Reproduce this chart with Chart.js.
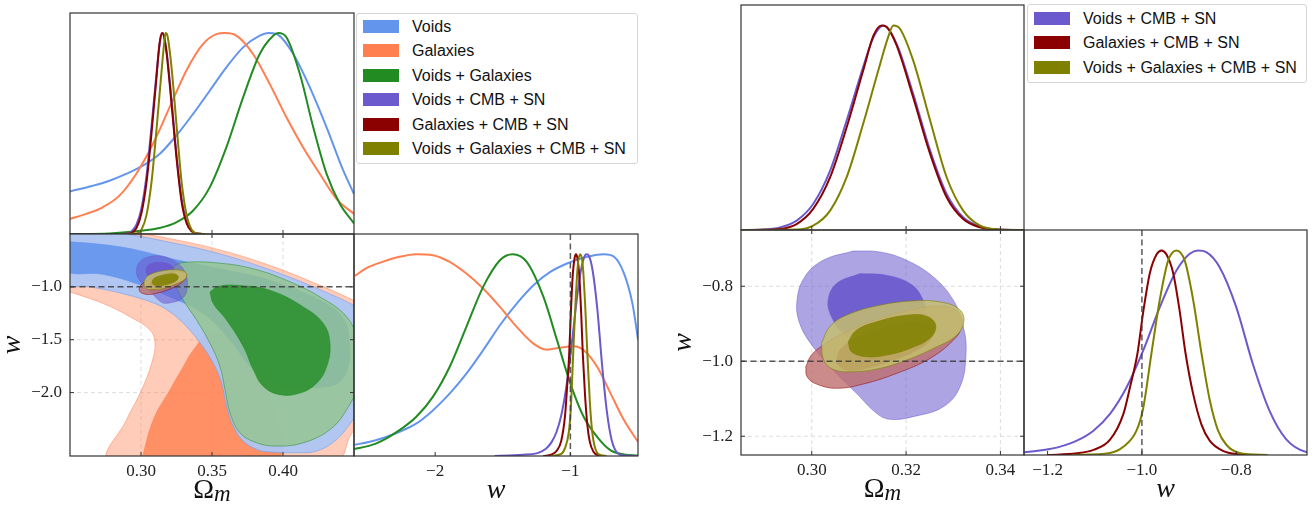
<!DOCTYPE html>
<html>
<head>
<meta charset="utf-8">
<script src="https://cdn.jsdelivr.net/npm/chart.js@4.4.0/dist/chart.umd.min.js"></script>
<style>
  body { margin: 0; width: 1315px; height: 506px; background: #fff; position: relative; overflow: hidden; }
  canvas { position: absolute; }
  .legend { position: absolute; border: 1px solid #d6d6d6; border-radius: 3px; background: #fff;
            font-family: "Liberation Sans", sans-serif; font-size: 16px; color: #111; }
  .legend .row { position: absolute; left: 0; height: 24px; line-height: 24px; white-space: nowrap; }
  .legend .sw { position: absolute; width: 36px; height: 13px; top: 5px; }
  .legend .tx { position: absolute; left: 55px; top: 0; }
</style>
</head>
<body>
<script>
// ---- series ----
const seriesNames = ["Voids", "Galaxies", "Voids + Galaxies", "Voids + CMB + SN", "Galaxies + CMB + SN", "Voids + Galaxies + CMB + SN"];
const seriesColors = ["#6495ED", "#FF7F50", "#228B22", "#6A5ACD", "#8B0000", "#808000"];

// ---- ticks ----
const omTicksLeft = [0.30, 0.35, 0.40];
const wTicksLeft2d = [-1.0, -1.5, -2.0];
const wTicksLeft1d = [-2, -1];
const omTicksRight = [0.30, 0.32, 0.34];
const wTicksRight = [-0.8, -1.0, -1.2];

// ---- 1D marginals: Omega_m  [value, normalised density] ----
const omVoids = [[.25,.212],[.266,.240],[.2778,.265],[.2895,.299],[.3013,.340],[.3131,.398],[.3248,.489],[.3366,.597],[.3484,.713],[.3601,.829],[.3719,.929],[.3836,.987],[.3895,1],[.3954,.995],[.4072,.896],[.4189,.730],[.4307,.531],[.4425,.315],[.45,.199]];
const omGalaxies = [[.25,.075],[.2613,.100],[.273,.133],[.2848,.191],[.2966,.299],[.3084,.448],[.3201,.630],[.3319,.813],[.3436,.945],[.3531,.995],[.359,1],[.3672,.987],[.3789,.896],[.3907,.746],[.4025,.580],[.4142,.431],[.426,.299],[.4378,.174],[.45,.100]];
const omVG = [[.25,0],[.2778,.003],[.3013,.017],[.3131,.030],[.3248,.058],[.3366,.116],[.3484,.232],[.3601,.431],[.3719,.680],[.3836,.896],[.3931,.987],[.3966,1],[.4025,.978],[.4119,.796],[.4213,.531],[.4307,.299],[.4401,.149],[.45,.053]];
const omVCS = [[.285,0],[.2897,.002],[.2933,.013],[.2968,.046],[.3003,.127],[.3039,.29],[.3074,.535],[.3109,.796],[.3131,.943],[.3152,1],[.318,.91],[.3215,.666],[.3251,.388],[.3286,.176],[.3321,.062],[.3357,.016],[.3392,.003],[.345,0]];
const omGCS = [[.285,0],[.2897,.001],[.2933,.005],[.2968,.029],[.3003,.103],[.3039,.258],[.3074,.502],[.3109,.78],[.3131,.951],[.3148,1],[.3159,.992],[.318,.902],[.3215,.649],[.3251,.372],[.3286,.16],[.3321,.054],[.3357,.013],[.3392,.002],[.345,0]];
const omVGCS = [[.285,0],[.2968,.002],[.3003,.021],[.3039,.095],[.3074,.258],[.3109,.519],[.3145,.812],[.3162,.943],[.3173,1],[.3187,.984],[.3215,.829],[.3251,.535],[.3286,.258],[.3321,.095],[.3357,.021],[.3392,.003],[.345,0]];

// ---- 1D marginals: w ----
const wVoids = [[-2.62,.052],[-2.439,.078],[-2.266,.119],[-2.141,.160],[-2.017,.226],[-1.893,.309],[-1.769,.408],[-1.645,.524],[-1.521,.648],[-1.397,.755],[-1.273,.846],[-1.149,.912],[-1.025,.954],[-.901,.983],[-.752,1],[-.677,.987],[-.603,.904],[-.541,.755],[-.499,.574]];
const wGalaxies = [[-2.62,.879],[-2.514,.929],[-2.39,.962],[-2.266,.987],[-2.141,1],[-2.017,.995],[-1.893,.962],[-1.769,.904],[-1.645,.83],[-1.521,.739],[-1.397,.64],[-1.273,.557],[-1.174,.527],[-1.074,.537],[-.975,.544],[-.901,.524],[-.801,.441],[-.702,.309],[-.603,.177],[-.499,.069]];
const wVG = [[-2.62,.031],[-2.439,.061],[-2.266,.127],[-2.141,.193],[-2.017,.293],[-1.893,.441],[-1.769,.64],[-1.645,.838],[-1.521,.97],[-1.427,1],[-1.323,.962],[-1.199,.788],[-1.099,.574],[-1,.359],[-.901,.193],[-.801,.094],[-.702,.028],[-.603,.008],[-.499,.002]];
const wVCS = [[-1.56,0],[-1.45,.003],[-1.35,.006],[-1.25,.013],[-1.2085,.024],[-1.1732,.041],[-1.138,.07],[-1.1028,.119],[-1.0676,.201],[-1.0324,.331],[-.9972,.511],[-.962,.723],[-.9268,.902],[-.8986,.984],[-.881,1],[-.8634,.992],[-.8352,.918],[-.8,.723],[-.7648,.445],[-.7296,.217],[-.6944,.078],[-.65,.013],[-.6,.002],[-.5,0]];
const wGCS = [[-1.2014,0],[-1.138,.008],[-1.1028,.025],[-1.0676,.075],[-1.0394,.2],[-1.0254,.33],[-1.0092,.5],[-.9972,.7],[-.9831,.89],[-.969,.98],[-.9585,1],[-.9479,.98],[-.9338,.89],[-.9197,.7],[-.9077,.5],[-.8915,.3],[-.8739,.15],[-.8563,.07],[-.8282,.02],[-.793,.003],[-.7648,0]];
const wVGCS = [[-1.1451,0],[-1.0676,.01],[-1.0394,.04],[-1.0113,.12],[-.9972,.23],[-.9796,.5],[-.962,.76],[-.9444,.95],[-.9268,1],[-.9092,.95],[-.8915,.76],[-.8739,.5],[-.8563,.27],[-.8387,.12],[-.8211,.05],[-.793,.01],[-.7331,0]];

// ---- 2D contours (Omega_m, w), 95% and 68% ----
const galaxies95 = [[.2453,-.3903],[.2852,-.4624],[.3204,-.5439],[.3556,-.6505],[.3908,-.7978],[.4261,-.9859],[.4519,-1.1426],[.4566,-1.1897],[.4566,-2.1928],[.4472,-2.4122],[.4378,-2.6317],[.2782,-2.6317],[.2899,-2.2555],[.3005,-1.9734],[.3075,-1.7226],[.3099,-1.5345],[.3063,-1.4091],[.2923,-1.2837],[.2735,-1.1583],[.25,-1.0486],[.2453,-1.0329]];
const galaxies68 = [[.3005,-2.6317],[.3087,-2.2555],[.3204,-1.9734],[.3298,-1.7539],[.3369,-1.5972],[.3486,-1.4404],[.3721,-1.5345],[.3908,-2.0674],[.3955,-2.6317]];
const voids95 = [[.2453,-.4216],[.2852,-.4906],[.3204,-.5784],[.3556,-.6881],[.3908,-.8386],[.4261,-1.0266],[.4519,-1.1897],[.4566,-1.2524],[.4566,-2.1301],[.4495,-2.2555],[.4378,-2.4436],[.4237,-2.5533],[.4096,-2.569],[.3908,-2.5627],[.3815,-2.5376],[.3721,-2.4592],[.365,-2.3182],[.3603,-2.1301],[.3568,-1.9107],[.3509,-1.7226],[.3427,-1.5502],[.3322,-1.3777],[.3204,-1.2367],[.3087,-1.152],[.2852,-1.058],[.2617,-.9953],[.2453,-.9702]];
const voids68 = [[.2453,-.569],[.2735,-.6003],[.2969,-.6505],[.3251,-.7445],[.3556,-.8292],[.3908,-.9389],[.4261,-1.127],[.4425,-1.2994],[.4467,-1.5345],[.446,-1.7539],[.4401,-1.895],[.4284,-1.9483],[.4096,-1.9483],[.3908,-1.895],[.3768,-1.7539],[.3627,-1.5031],[.3439,-1.2524],[.3204,-1.0956],[.2969,-.9702],[.2735,-.8824],[.2453,-.8386]];
const vg95 = [[.3216,-.8605],[.3239,-.7978],[.3322,-.7665],[.3556,-.7759],[.3791,-.8292],[.4026,-.9389],[.4261,-1.0956],[.4448,-1.2837],[.4519,-1.5031],[.4519,-1.942],[.4448,-2.1614],[.4331,-2.3495],[.4143,-2.4749],[.3955,-2.5063],[.3815,-2.4749],[.3697,-2.3809],[.3627,-2.1928],[.3592,-1.9734],[.3556,-1.7539],[.3486,-1.5345],[.3392,-1.315],[.3298,-1.127],[.3239,-.9702]];
const vg68 = [[.3486,-1.0486],[.3545,-.9953],[.3674,-.9859],[.3908,-1.0329],[.4143,-1.1897],[.4284,-1.3464],[.4331,-1.5345],[.4308,-1.7539],[.4237,-1.9107],[.412,-2.0047],[.3979,-2.0204],[.3862,-1.942],[.3791,-1.7853],[.3721,-1.5658],[.3603,-1.315],[.3509,-1.1583]];
const vcs95 = [[.30878,-.706],[.31444,-.7086],[.32011,-.7308],[.32577,-.7752],[.33002,-.8373],[.33214,-.9082],[.33271,-.9792],[.33144,-1.0679],[.3279,-1.1211],[.32152,-1.1477],[.31657,-1.1548],[.31374,-1.1388],[.30949,-1.0856],[.30453,-1.0235],[.30028,-.9614],[.29745,-.8993],[.29688,-.8373],[.29851,-.7752],[.30241,-.7308]];
const vcs68 = [[.3102,-.7663],[.31586,-.7707],[.32082,-.7929],[.32329,-.8284],[.32436,-.8816],[.32365,-.9348],[.32082,-.9703],[.31586,-.9792],[.3109,-.9614],[.30666,-.926],[.30418,-.8816],[.30347,-.8373],[.30524,-.7929]];
const gcs95 = [[.29873,-1.0146],[.29993,-.9836],[.30241,-.957],[.30736,-.9215],[.31444,-.886],[.32152,-.8621],[.3279,-.8532],[.33129,-.8727],[.33179,-.9082],[.33002,-.9437],[.32506,-.9925],[.31798,-1.0324],[.3109,-1.0608],[.30524,-1.0723],[.30099,-1.0608],[.29901,-1.0413]];
const gcs68 = [[.30524,-1.0058],[.30595,-.9703],[.3102,-.9348],[.31586,-.9082],[.32152,-.8949],[.32506,-.9038],[.32577,-.9304],[.32294,-.9659],[.31728,-.9969],[.31162,-1.0191],[.30736,-1.0235]];
const vgcs95 = [[.30205,-.9526],[.30382,-.9082],[.30736,-.8772],[.31444,-.8506],[.32152,-.839],[.32719,-.8417],[.33108,-.8594],[.33228,-.8905],[.33073,-.9304],[.32577,-.9659],[.32011,-.9969],[.31444,-1.0191],[.30878,-1.028],[.30453,-1.0218],[.30255,-.9969]];
const vgcs68 = [[.30772,-.9481],[.30949,-.9171],[.31444,-.8923],[.32011,-.8772],[.32436,-.8798],[.32627,-.9038],[.32521,-.9366],[.32082,-.9659],[.31586,-.9836],[.31162,-.988],[.30843,-.9747]];

// fill colours per contour level
const fills = {
  galaxies95: "rgba(255,127,80,0.4)", galaxies68: "rgba(255,127,80,0.8)",
  voids95: "rgba(174,198,242,0.96)", voids68: "rgba(100,149,237,0.9)",
  vg95: "rgba(147,196,140,0.8)", vg68: "rgba(34,139,34,0.8)",
  vcs95: "rgba(106,90,205,0.55)", vcs68: "rgba(106,90,205,0.9)",
  gcs95: "rgba(190,110,110,0.8)", gcs68: "rgba(139,0,0,0.8)",
  vgcs95: "rgba(196,192,110,0.85)", vgcs68: "rgba(128,128,0,0.85)"
};

const toXY = pts => pts.map(([x, y]) => ({x, y}));

const curve = (pts, color) => ({
  data: toXY(pts), showLine: true, borderColor: color, borderWidth: 2,
  pointRadius: 0, fill: false, cubicInterpolationMode: "monotone"
});

const contour = (pts, fillColor, edge) => ({
  data: toXY(pts.concat([pts[0]])), showLine: true, fill: "shape",
  backgroundColor: fillColor, borderColor: edge, borderWidth: 1, pointRadius: 0, tension: 0.4
});

const edgeOf = (hex, a) => {
  const n = parseInt(hex.slice(1), 16);
  return `rgba(${n >> 16},${(n >> 8) & 255},${n & 255},${a})`;
};

const fmt = d => v => Number(v).toFixed(d).replace("-", "\u2212");

function drawTitle(ctx, kind, cx, cy, rotate) {
  ctx.save();
  ctx.translate(cx, cy);
  if (rotate) ctx.rotate(-Math.PI / 2);
  ctx.fillStyle = "#111";
  ctx.textBaseline = "alphabetic";
  if (kind === "om") {
    ctx.font = '28px "Liberation Serif"';
    const w1 = ctx.measureText("\u03A9").width;
    ctx.font = 'italic 23px "Liberation Serif"';
    const w2 = ctx.measureText("m").width;
    const x0 = -(w1 + w2) / 2;
    ctx.font = '28px "Liberation Serif"';
    ctx.fillText("\u03A9", x0, 6);
    ctx.font = 'italic 23px "Liberation Serif"';
    ctx.fillText("m", x0 + w1, 9);
  } else {
    ctx.font = 'italic 28px "Liberation Serif"';
    ctx.textAlign = "center";
    ctx.fillText("w", 0, 6);
  }
  ctx.restore();
}

function deco(o) {
  return {
    id: "deco",
    beforeDatasetsDraw(chart) {
      if (!o.grid) return;
      const {ctx, chartArea: a, scales: {x, y}} = chart;
      ctx.save();
      ctx.strokeStyle = "#d4d4d4";
      ctx.lineWidth = 0.8;
      ctx.setLineDash([4, 3]);
      ctx.beginPath();
      o.xTicks.forEach(v => { const p = x.getPixelForValue(v); ctx.moveTo(p, a.top); ctx.lineTo(p, a.bottom); });
      o.yTicks.forEach(v => { const p = y.getPixelForValue(v); ctx.moveTo(a.left, p); ctx.lineTo(a.right, p); });
      ctx.stroke();
      ctx.restore();
    },
    afterDatasetsDraw(chart) {
      const {ctx, chartArea: a, scales: {x, y}} = chart;
      ctx.save();
      ctx.strokeStyle = "rgba(60,60,60,0.85)";
      ctx.lineWidth = 1.5;
      ctx.setLineDash([6, 3.5]);
      ctx.beginPath();
      if (o.hline !== undefined) { const p = y.getPixelForValue(o.hline); ctx.moveTo(a.left, p); ctx.lineTo(a.right, p); }
      if (o.vline !== undefined) { const p = x.getPixelForValue(o.vline); ctx.moveTo(p, a.top); ctx.lineTo(p, a.bottom); }
      ctx.stroke();
      ctx.setLineDash([]);
      ctx.strokeStyle = "#333";
      ctx.lineWidth = 1.2;
      ctx.strokeRect(a.left, a.top, a.right - a.left, a.bottom - a.top);
      ctx.lineWidth = 1;
      ctx.beginPath();
      o.xTicks.forEach(v => {
        const p = x.getPixelForValue(v);
        ctx.moveTo(p, a.bottom); ctx.lineTo(p, a.bottom - 4);
        if (o.grid) { ctx.moveTo(p, a.top); ctx.lineTo(p, a.top + 4); }
      });
      if (o.grid) o.yTicks.forEach(v => {
        const p = y.getPixelForValue(v);
        ctx.moveTo(a.left, p); ctx.lineTo(a.left + 4, p);
        ctx.moveTo(a.right, p); ctx.lineTo(a.right - 4, p);
      });
      ctx.stroke();
      ctx.restore();
    },
    afterDraw(chart) {
      const {ctx, chartArea: a} = chart;
      if (o.xTitle) drawTitle(ctx, o.xTitle, (a.left + a.right) / 2, a.bottom + 36, false);
      if (o.yTitle) drawTitle(ctx, o.yTitle, a.left - 56, (a.top + a.bottom) / 2, true);
    }
  };
}

function panel(rect, datasets, o) {
  const ML = 70, MT = 24, MR = 24, MB = 52;
  const cv = document.createElement("canvas");
  cv.width = rect.w + ML + MR;
  cv.height = rect.h + MT + MB;
  cv.style.left = (rect.x - ML) + "px";
  cv.style.top = (rect.y - MT) + "px";
  cv.style.width = cv.width + "px";
  cv.style.height = cv.height + "px";
  document.body.appendChild(cv);
  const tickFont = {family: "Liberation Serif", size: 17};
  new Chart(cv, {
    type: "scatter",
    data: {datasets: datasets.slice().reverse()},
    options: {
      responsive: false, animation: false, devicePixelRatio: 1,
      layout: {padding: {top: MT, right: MR, left: 0, bottom: 0}},
      plugins: {legend: {display: false}, tooltip: {enabled: false}},
      scales: {
        x: {
          type: "linear", min: o.xr[0], max: o.xr[1],
          grid: {display: false, drawTicks: false}, border: {display: false},
          afterBuildTicks: s => { s.ticks = o.xTicks.map(v => ({value: v})); },
          afterFit: s => { s.height = MB; },
          ticks: {display: !!o.xLabels, callback: fmt(o.xDec), font: tickFont, color: "#222", padding: 5, maxRotation: 0, autoSkip: false}
        },
        y: {
          type: "linear", min: o.yr[0], max: o.yr[1],
          grid: {display: false, drawTicks: false}, border: {display: false},
          afterBuildTicks: s => { s.ticks = (o.yTicks || []).map(v => ({value: v})); },
          afterFit: s => { s.width = ML; },
          ticks: {display: !!o.yLabels, callback: fmt(o.yDec || 0), font: tickFont, color: "#222", padding: 8, autoSkip: false}
        }
      }
    },
    plugins: [deco(o)]
  });
}

const c = seriesColors;
const dens = [0, 1.1];

// left triangle
panel({x: 70, y: 13, w: 284, h: 221},
  [curve(omVoids, c[0]), curve(omGalaxies, c[1]), curve(omVG, c[2]), curve(omVCS, c[3]), curve(omGCS, c[4]), curve(omVGCS, c[5])],
  {xr: [0.25, 0.45], yr: dens, xTicks: omTicksLeft, yTicks: [], xDec: 2});

panel({x: 70, y: 234, w: 284, h: 222},
  [contour(galaxies95, fills.galaxies95, edgeOf(c[1], 0.5)), contour(galaxies68, fills.galaxies68, edgeOf(c[1], 0.5)),
   contour(voids95, fills.voids95, edgeOf(c[0], 0.5)), contour(voids68, fills.voids68, edgeOf(c[0], 0.5)),
   contour(vg95, fills.vg95, edgeOf(c[2], 0.5)), contour(vg68, fills.vg68, edgeOf(c[2], 0.5)),
   contour(vcs95, fills.vcs95, edgeOf(c[3], 0.5)), contour(vcs68, fills.vcs68, edgeOf(c[3], 0.5)),
   contour(gcs95, fills.gcs95, edgeOf(c[4], 0.5)), contour(gcs68, fills.gcs68, edgeOf(c[4], 0.5)),
   contour(vgcs95, fills.vgcs95, edgeOf(c[5], 0.6)), contour(vgcs68, fills.vgcs68, edgeOf(c[5], 0.6))],
  {xr: [0.25, 0.45], yr: [-2.6, -0.5], xTicks: omTicksLeft, yTicks: wTicksLeft2d, xDec: 2, yDec: 1,
   xLabels: true, yLabels: true, grid: true, hline: -1, xTitle: "om", yTitle: "w"});

panel({x: 354, y: 234, w: 284, h: 222},
  [curve(wVoids, c[0]), curve(wGalaxies, c[1]), curve(wVG, c[2]), curve(wVCS, c[3]), curve(wGCS, c[4]), curve(wVGCS, c[5])],
  {xr: [-2.6, -0.5], yr: dens, xTicks: wTicksLeft1d, yTicks: [], xDec: 0, xLabels: true, vline: -1, xTitle: "w"});

// right triangle
panel({x: 741, y: 5, w: 283, h: 225},
  [curve(omVCS, c[3]), curve(omGCS, c[4]), curve(omVGCS, c[5])],
  {xr: [0.285, 0.345], yr: dens, xTicks: omTicksRight, yTicks: [], xDec: 2});

panel({x: 741, y: 230, w: 283, h: 225},
  [contour(vcs95, fills.vcs95, edgeOf(c[3], 0.5)), contour(vcs68, fills.vcs68, edgeOf(c[3], 0.5)),
   contour(gcs95, fills.gcs95, edgeOf(c[4], 0.5)), contour(gcs68, fills.gcs68, edgeOf(c[4], 0.5)),
   contour(vgcs95, fills.vgcs95, edgeOf(c[5], 0.6)), contour(vgcs68, fills.vgcs68, edgeOf(c[5], 0.6))],
  {xr: [0.285, 0.345], yr: [-1.25, -0.65], xTicks: omTicksRight, yTicks: wTicksRight, xDec: 2, yDec: 1,
   xLabels: true, yLabels: true, grid: true, hline: -1, xTitle: "om", yTitle: "w"});

panel({x: 1024, y: 230, w: 283, h: 225},
  [curve(wVCS, c[3]), curve(wGCS, c[4]), curve(wVGCS, c[5])],
  {xr: [-1.25, -0.65], yr: dens, xTicks: wTicksRight, yTicks: [], xDec: 1, xLabels: true, vline: -1, xTitle: "w"});

// legends
function legend(x, y, w, h, first, idx) {
  const box = document.createElement("div");
  box.className = "legend";
  Object.assign(box.style, {left: x + "px", top: y + "px", width: w + "px", height: h + "px"});
  idx.forEach((k, i) => {
    const row = document.createElement("div");
    row.className = "row";
    row.style.top = (first + i * 24.4 - 12) + "px";
    row.style.width = w + "px";
    const sw = document.createElement("span");
    sw.className = "sw";
    sw.style.left = "6px";
    sw.style.background = seriesColors[k];
    const tx = document.createElement("span");
    tx.className = "tx";
    tx.textContent = seriesNames[k];
    row.append(sw, tx);
    box.append(row);
  });
  document.body.append(box);
}
legend(356, 13, 280, 149, 13, [0, 1, 2, 3, 4, 5]);
legend(1027, 4, 278, 77, 14, [3, 4, 5]);
</script>
</body>
</html>
